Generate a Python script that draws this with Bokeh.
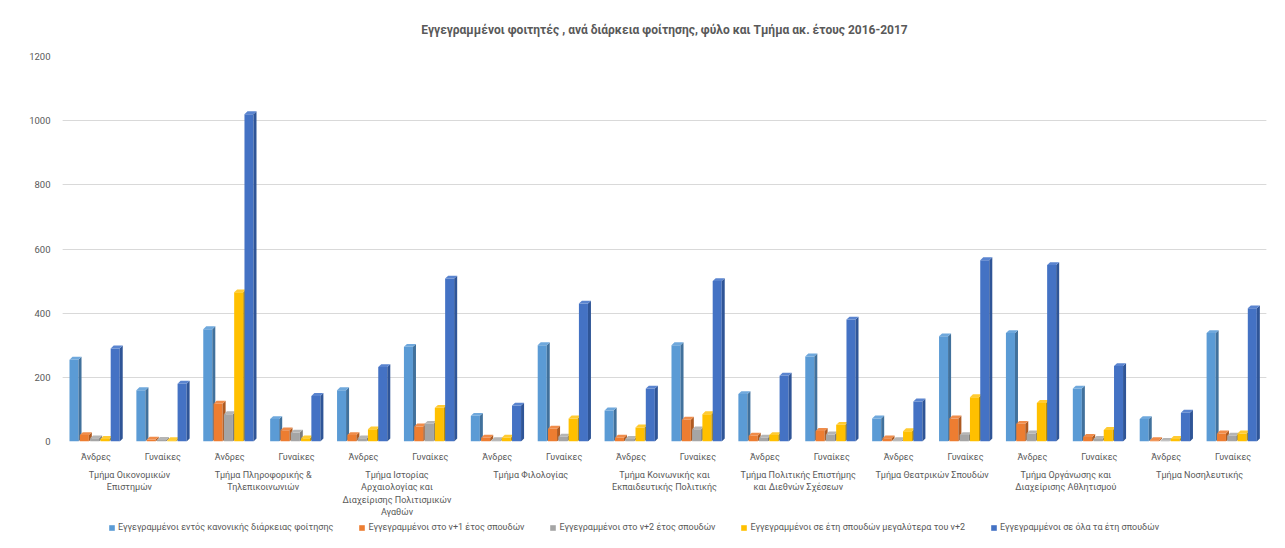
from bokeh.plotting import figure
from bokeh.layouts import column
from bokeh.models import Range1d, LinearAxis, FixedTicker, Legend, LegendItem, ColumnDataSource, Grid
from bokeh.embed import file_html
from bokeh.resources import INLINE

departments = [
    "Τμήμα Οικονομικών\nΕπιστημών",
    "Τμήμα Πληροφορικής &\nΤηλεπικοινωνιών",
    "Τμήμα Ιστορίας\nΑρχαιολογίας και\nΔιαχείρισης Πολιτισμικών\nΑγαθών",
    "Τμήμα Φιλολογίας",
    "Τμήμα Κοινωνικής και\nΕκπαιδευτικής Πολιτικής",
    "Τμήμα Πολιτικής Επιστήμης\nκαι Διεθνών Σχέσεων",
    "Τμήμα Θεατρικών Σπουδών",
    "Τμήμα Οργάνωσης και\nΔιαχείρισης Αθλητισμού",
    "Τμήμα Νοσηλευτικής",
]
sexes = ["Άνδρες", "Γυναίκες"]
series_names = [
    "Εγγεγραμμένοι εντός κανονικής διάρκειας φοίτησης",
    "Εγγεγραμμένοι στο ν+1 έτος σπουδών",
    "Εγγεγραμμένοι στο ν+2 έτος σπουδών",
    "Εγγεγραμμένοι σε έτη σπουδών μεγαλύτερα του ν+2",
    "Εγγεγραμμένοι σε όλα τα έτη σπουδών",
]
# order: (dept1 Άνδρες, dept1 Γυναίκες, dept2 Άνδρες, ...)
regular = [255, 160, 350, 70, 160, 295, 80, 300, 97, 300, 148, 265, 72, 328, 338, 165, 70, 338]
plus1 = [20, 6, 118, 35, 20, 47, 12, 40, 12, 68, 18, 33, 10, 72, 55, 14, 4, 25]
plus2 = [10, 5, 85, 28, 10, 55, 4, 15, 8, 38, 12, 22, 4, 20, 25, 8, 2, 18]
beyond = [8, 4, 465, 10, 38, 105, 12, 72, 44, 85, 20, 52, 32, 138, 120, 36, 8, 25]
total = [290, 180, 1020, 142, 232, 508, 112, 430, 165, 500, 205, 380, 125, 565, 550, 235, 90, 415]
y_ticks = [0, 200, 400, 600, 800, 1000, 1200]

front_colors = ["#5B9BD5", "#ED7D31", "#A5A5A5", "#FFC000", "#4472C4"]
side_colors = ["#41719C", "#AE5A21", "#7C7C7C", "#BF9000", "#2F5597"]
top_colors = ["#6FA8DC", "#F08C4A", "#B5B5B5", "#FFCB33", "#5A84CF"]

FONT = "Roboto"
TXT = "#595959"
W = 1269

p = figure(width=W, height=520, output_backend="svg", toolbar_location=None,
           x_range=Range1d(0, 18), y_range=Range1d(0, 1200),
           x_axis_location=None, y_axis_location=None,
           min_border_left=62, min_border_right=3, min_border_top=56, min_border_bottom=77,
           title="Εγγεγραμμένοι φοιτητές , ανά διάρκεια φοίτησης, φύλο και Τμήμα ακ. έτους 2016-2017")
p.outline_line_color = None
p.background_fill_color = "white"
p.border_fill_color = "white"
p.xgrid.visible = False
p.title.align = "center"
p.title.text_font = FONT
p.title.text_font_size = "12px"
p.title.text_font_style = "bold"
p.title.text_color = TXT
p.title.offset = 0
p.title.standoff = 40

yaxis = LinearAxis(ticker=FixedTicker(ticks=y_ticks))
yaxis.axis_line_color = None
yaxis.major_tick_line_color = None
yaxis.minor_tick_line_color = None
yaxis.major_tick_out = 0
yaxis.major_tick_in = 0
yaxis.major_label_text_font = FONT
yaxis.major_label_text_font_size = "9.5px"
yaxis.major_label_text_color = TXT
yaxis.major_label_standoff = 12
p.add_layout(yaxis, "left")
p.add_layout(Grid(dimension=1, ticker=FixedTicker(ticks=y_ticks), grid_line_color="#D9D9D9"))

n = len(regular)
centers = [i + 0.5 for i in range(n)]
pitch = 0.154
fw = 0.135
sd = 0.045
dh = 9

all_series = [regular, plus1, plus2, beyond, total]
sources = []
for s, vals in enumerate(all_series):
    off = (s - 2) * pitch - 0.02
    xs = [c + off for c in centers]
    src = ColumnDataSource(dict(x=xs, top=vals))
    sources.append(src)
    p.vbar(x="x", top="top", bottom=0, width=fw, source=src,
           fill_color=front_colors[s], line_color=None)
    x1 = [x + fw / 2 for x in xs]
    x0 = [x - fw / 2 for x in xs]
    side_x = [[a, a + sd, a + sd, a] for a in x1]
    side_y = [[0, dh, v + dh, v] for v in vals]
    p.patches(side_x, side_y, fill_color=side_colors[s], line_color=None)
    top_x = [[a, b, b + sd, a + sd] for a, b in zip(x0, x1)]
    top_y = [[v, v, v + dh, v + dh] for v in vals]
    p.patches(top_x, top_y, fill_color=top_colors[s], line_color=None)

sex_axis = LinearAxis(ticker=FixedTicker(ticks=centers),
                      major_label_overrides={c: sexes[i % 2] for i, c in enumerate(centers)})
dept_centers = [2 * k + 1 for k in range(len(departments))]
dept_axis = LinearAxis(ticker=FixedTicker(ticks=dept_centers),
                       major_label_overrides={c: departments[k] for k, c in enumerate(dept_centers)})
for ax in (sex_axis, dept_axis):
    ax.axis_line_color = None
    ax.major_tick_line_color = None
    ax.minor_tick_line_color = None
    ax.major_tick_out = 0
    ax.major_tick_in = 0
    ax.major_label_text_font = FONT
    ax.major_label_text_font_size = "9px"
    ax.major_label_text_color = TXT
sex_axis.major_label_standoff = 10
dept_axis.major_label_standoff = 5
dept_axis.major_label_text_line_height = 1.25
p.add_layout(sex_axis, "below")
p.add_layout(dept_axis, "below")

# legend strip: same series drawn out of view, used only as legend proxies
q = figure(width=W, height=12, output_backend="svg", toolbar_location=None,
           x_range=Range1d(100, 200), y_range=Range1d(5000, 6000),
           x_axis_location=None, y_axis_location=None, min_border=0)
q.outline_line_color = None
q.xgrid.visible = False
q.ygrid.visible = False
q.border_fill_color = "white"
q.background_fill_color = "white"
legend_items = []
for s in range(5):
    r = q.vbar(x="x", top="top", bottom=0, width=fw, source=sources[s],
               fill_color=front_colors[s], line_color=None)
    legend_items.append(LegendItem(label=series_names[s], renderers=[r]))
legend = Legend(items=legend_items, orientation="horizontal", location=(46, 0),
                spacing=25, glyph_width=7, glyph_height=7, label_standoff=3,
                label_text_font=FONT, label_text_font_size="9px", label_text_color=TXT,
                border_line_color=None, background_fill_alpha=0, padding=0, margin=0)
q.add_layout(legend, "center")

layout = column(p, q, spacing=0)
open("out.html", "w").write(file_html(layout, INLINE))
